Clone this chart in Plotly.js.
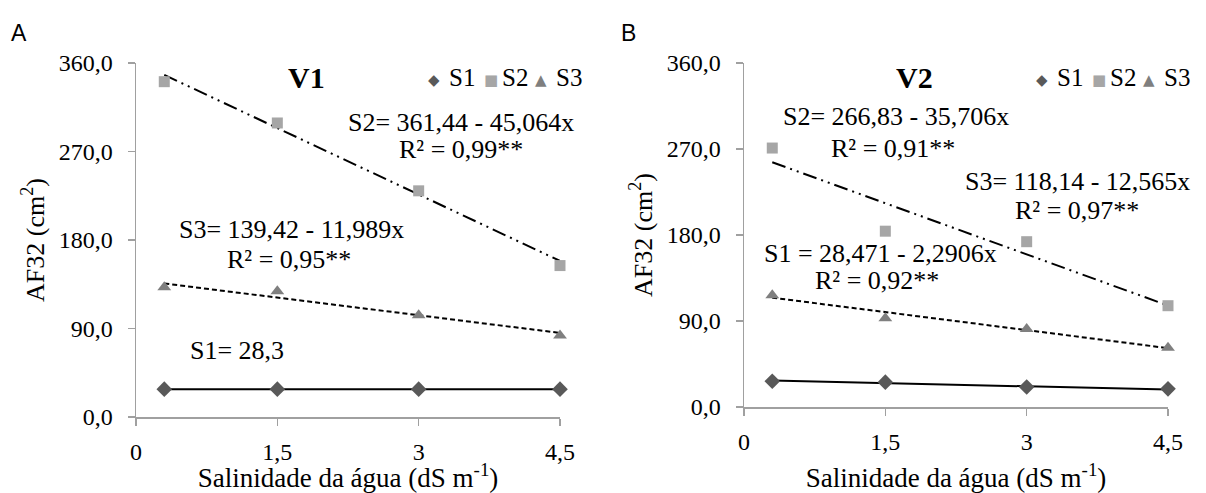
<!DOCTYPE html>
<html>
<head>
<meta charset="utf-8">
<script src="https://cdn.plot.ly/plotly-3.0.1.min.js"></script>
<style>html,body{margin:0;padding:0;background:#fff;}#chart{width:1206px;height:493px;}</style>
</head>
<body>
<div id="chart"></div>
<script>
// ---- data ----
var salinity = [0.3, 1.5, 3.0, 4.5];
var xTickVals = [0, 1.5, 3, 4.5];
var xTickText = ['0', '1,5', '3', '4,5'];

// Panel A (V1)
var v1S1 = [28.3, 28.3, 28.3, 28.3];
var v1S2 = [341, 299, 230, 154];
var v1S3 = [132, 128, 103.5, 83];
// Panel B (V2)
var v2S1 = [27, 26, 21, 19];
var v2S2 = [271, 184, 173, 106];
var v2S3 = [117, 93, 81.5, 62];

// trend lines (ends at x = 0.3 and 4.5, from the printed equations)
var trendX = [0.3, 4.5];
var v1TrendS1 = [28.3, 28.3];
var v1TrendS2 = [347.9, 158.7];
var v1TrendS3 = [135.8, 85.5];
var v2TrendS1 = [27.8, 18.2];
var v2TrendS2 = [256.1, 106.2];
var v2TrendS3 = [114.4, 61.6];

var seriesNames = ['S1', 'S2', 'S3'];
var colS1 = '#595959', colS2 = '#a6a6a6', colS3 = '#7f7f7f';

var W = 1206, H = 493;
function px(x){ return x / W; }
function py(y){ return 1 - y / H; }

var serif = '"Liberation Serif", "Times New Roman", serif';
var sans = '"Liberation Sans", Arial, sans-serif';

function markers(x, y, xa, ya, sym, col, size, name){
  return {x: x, y: y, xaxis: xa, yaxis: ya, type: 'scatter', mode: 'markers', name: name,
    marker: {symbol: sym, color: col, size: size, line: {width: 0}}, cliponaxis: false, showlegend: false};
}
function trend(x, y, xa, ya, dash){
  return {x: x, y: y, xaxis: xa, yaxis: ya, type: 'scatter', mode: 'lines',
    line: {color: '#000', width: 2, dash: dash}, cliponaxis: false, showlegend: false, hoverinfo: 'skip'};
}
var dashS2 = '14px,5px,2px,5px,2px,5px';
var dashS3 = '5px,3px';

var traces = [
  trend(trendX, v1TrendS1, 'x', 'y', 'solid'),
  trend(trendX, v1TrendS2, 'x', 'y', dashS2),
  trend(trendX, v1TrendS3, 'x', 'y', dashS3),
  markers(salinity, v1S1, 'x', 'y', 'diamond', colS1, 12, 'S1'),
  markers(salinity, v1S2, 'x', 'y', 'square', colS2, 11, 'S2'),
  markers(salinity, v1S3, 'x', 'y', 'triangle-up', colS3, 12, 'S3'),
  trend(trendX, v2TrendS1, 'x2', 'y2', 'solid'),
  trend(trendX, v2TrendS2, 'x2', 'y2', dashS2),
  trend(trendX, v2TrendS3, 'x2', 'y2', dashS3),
  markers(salinity, v2S1, 'x2', 'y2', 'diamond', colS1, 12, 'S1'),
  markers(salinity, v2S2, 'x2', 'y2', 'square', colS2, 11, 'S2'),
  markers(salinity, v2S3, 'x2', 'y2', 'triangle-up', colS3, 12, 'S3')
];

var axisCommon = {
  showgrid: false, zeroline: false, showline: true, linecolor: '#a0a0a0', linewidth: 1.5,
  ticks: 'outside', ticklen: 7, tickcolor: '#a0a0a0', tickwidth: 1.5,
  tickfont: {family: serif, size: 24, color: '#000'}, fixedrange: true
};
function xa(domain, anchor){
  return Object.assign({}, axisCommon, {domain: domain, anchor: anchor, range: [0, 4.5],
    tickmode: 'array', tickvals: xTickVals, ticktext: xTickText, ticklabelstandoff: 6,
    title: {text: 'Salinidade da água (dS m<sup>-1</sup>)', font: {family: serif, size: 27, color: '#000'}, standoff: 16}});
}
function ya(domain, anchor){
  return Object.assign({}, axisCommon, {domain: domain, anchor: anchor, range: [0, 360],
    tickmode: 'linear', tick0: 0, dtick: 90, tickformat: '.1f', ticklabelstandoff: 10,
    title: {text: 'AF32 (cm<sup>2</sup>)', font: {family: serif, size: 26, color: '#000'}, standoff: 6}});
}

function ann(x, y, text, size, opts){
  return Object.assign({xref: 'paper', yref: 'paper', x: px(x), y: py(y), text: text, showarrow: false,
    xanchor: 'center', yanchor: 'middle', font: {family: serif, size: size, color: '#000'}}, opts || {});
}
function sym(x, y, ch, col, size){
  return ann(x, y, ch, size, {font: {family: '"DejaVu Sans", sans-serif', size: size, color: col}});
}
var eqSize = 26, legSize = 25;

var annotations = [
  // Panel A
  ann(9, 33, 'A', 23, {xanchor: 'left', font: {family: sans, size: 23, color: '#000'}}),
  ann(306, 78, '<b>V1</b>', 30),
  sym(434, 80, '◆', colS1, 15), ann(447, 78, seriesNames[0], legSize, {xanchor: 'left'}),
  sym(491, 80, '■', colS2, 15), ann(500, 78, seriesNames[1], legSize, {xanchor: 'left'}),
  sym(541, 80, '▲', colS3, 15), ann(554, 78, seriesNames[2], legSize, {xanchor: 'left'}),
  ann(461, 122, 'S2= 361,44 - 45,064x', eqSize),
  ann(461, 150, 'R² = 0,99**', eqSize),
  ann(291, 229, 'S3= 139,42 - 11,989x', eqSize),
  ann(289, 259, 'R² = 0,95**', eqSize),
  ann(237, 350, 'S1= 28,3', eqSize),

  // Panel B
  ann(619, 33, 'B', 23, {xanchor: 'left', font: {family: sans, size: 23, color: '#000'}}),
  ann(914, 78, '<b>V2</b>', 30),
  sym(1042, 80, '◆', colS1, 15), ann(1055, 78, seriesNames[0], legSize, {xanchor: 'left'}),
  sym(1099, 80, '■', colS2, 15), ann(1108, 78, seriesNames[1], legSize, {xanchor: 'left'}),
  sym(1149, 80, '▲', colS3, 15), ann(1162, 78, seriesNames[2], legSize, {xanchor: 'left'}),
  ann(896, 116, 'S2= 266,83 - 35,706x', eqSize),
  ann(893, 148, 'R² = 0,91**', eqSize),
  ann(1077, 182, 'S3= 118,14 - 12,565x', eqSize),
  ann(1077, 210, 'R² = 0,97**', eqSize),
  ann(880, 253, 'S1 = 28,471 - 2,2906x', eqSize),
  ann(877, 280, 'R² = 0,92**', eqSize)
];

var layout = {
  width: W, height: H, margin: {l: 0, r: 0, t: 0, b: 0},
  paper_bgcolor: '#fff', plot_bgcolor: '#fff', separators: ',.',
  showlegend: false, hovermode: false,
  xaxis: xa([px(136), px(560)], 'y'),
  yaxis: ya([py(417), py(63)], 'x'),
  xaxis2: xa([px(744), px(1168)], 'y2'),
  yaxis2: ya([py(407), py(63)], 'x2'),
  annotations: annotations
};

Plotly.newPlot('chart', traces, layout, {displayModeBar: false, staticPlot: true});
</script>
</body>
</html>
